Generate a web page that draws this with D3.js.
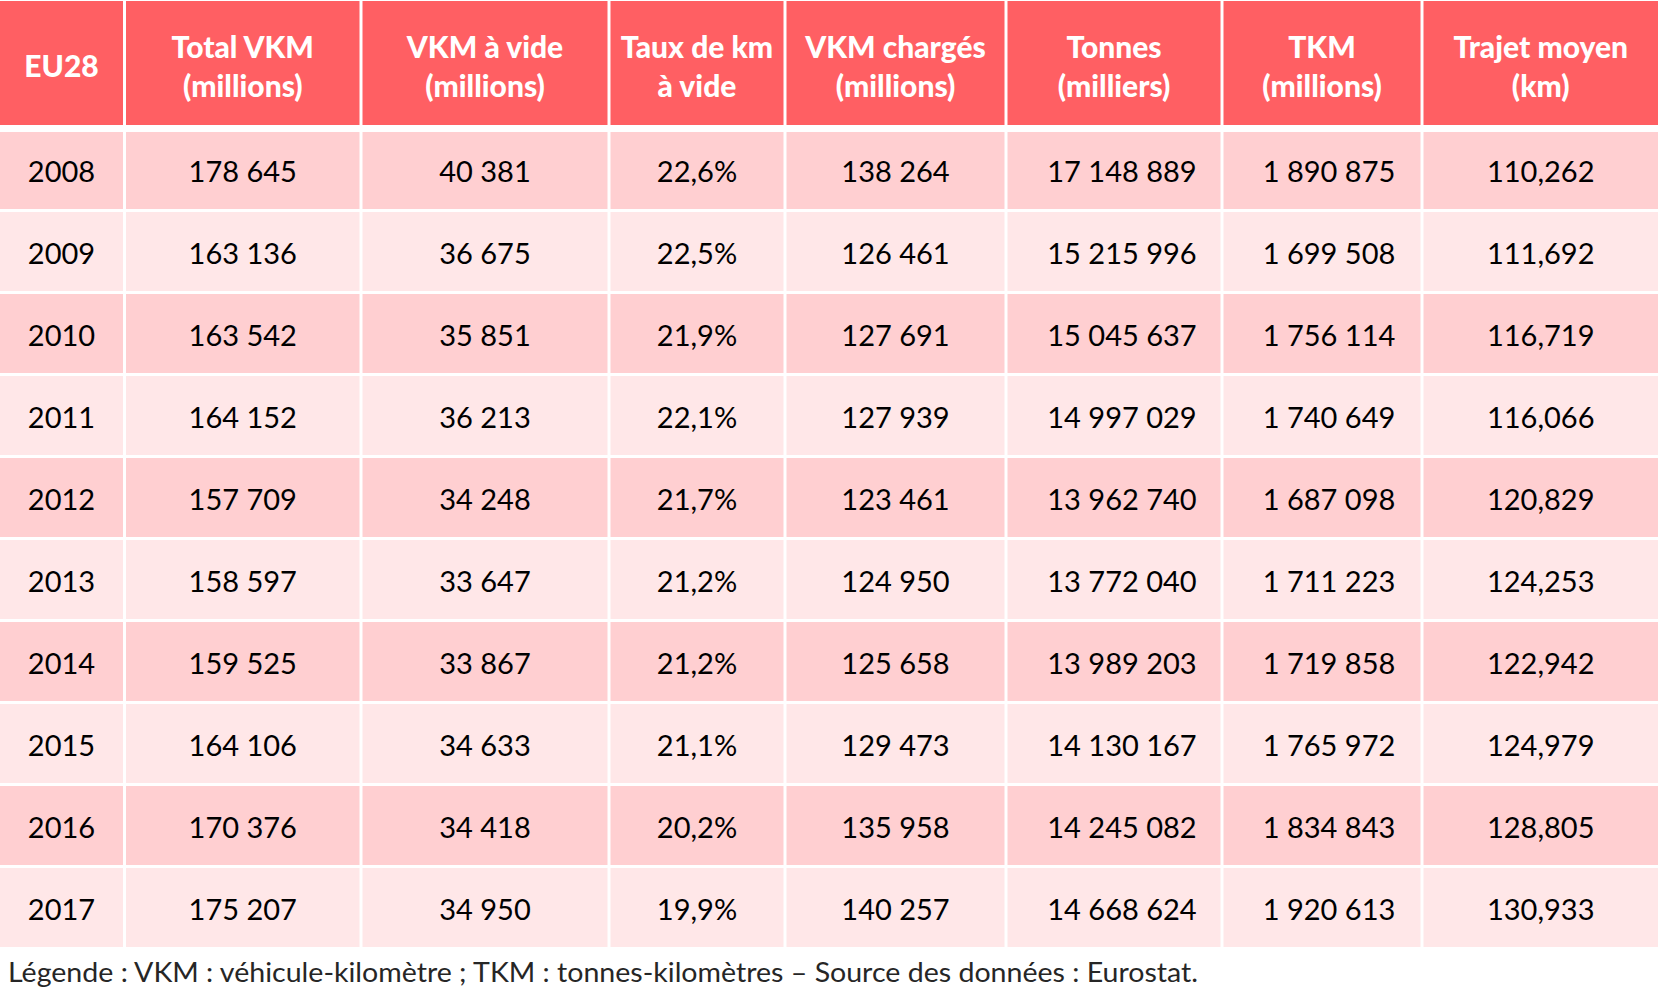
<!DOCTYPE html>
<html><head><meta charset="utf-8">
<script src="https://cdn.jsdelivr.net/npm/d3@7"></script>
<style>html,body{margin:0;padding:0;background:#fff;}svg{display:block;}</style>
</head><body>
<script>
const headers = [["EU28"],["Total VKM","(millions)"],["VKM à vide","(millions)"],["Taux de km","à vide"],["VKM chargés","(millions)"],["Tonnes","(milliers)"],["TKM","(millions)"],["Trajet moyen","(km)"]];
const years = [2008,2009,2010,2011,2012,2013,2014,2015,2016,2017];
const totalVKM = [178645,163136,163542,164152,157709,158597,159525,164106,170376,175207];
const emptyVKM = [40381,36675,35851,36213,34248,33647,33867,34633,34418,34950];
const emptyRate = [22.6,22.5,21.9,22.1,21.7,21.2,21.2,21.1,20.2,19.9];
const loadedVKM = [138264,126461,127691,127939,123461,124950,125658,129473,135958,140257];
const tonnes = [17148889,15215996,15045637,14997029,13962740,13772040,13989203,14130167,14245082,14668624];
const tkm = [1890875,1699508,1756114,1740649,1687098,1711223,1719858,1765972,1834843,1920613];
const avgTrip = [110.262,111.692,116.719,116.066,120.829,124.253,122.942,124.979,128.805,130.933];
const legendText = "Légende : VKM : véhicule-kilomètre ; TKM : tonnes-kilomètres – Source des données : Eurostat.";

const W = 1658, H = 998;
const fr = d3.formatLocale({decimal:",", thousands:" ", grouping:[3], currency:["","€"]});
const fInt = fr.format(",d"), f1 = fr.format(".1f"), f3 = fr.format(".3f");

const svg = d3.select("body").append("svg").attr("width",W).attr("height",H);
const FONT = "Lato, 'Open Sans', sans-serif";

const edges = [0,124.5,361,609,785,1006,1222,1422,1658];
const cellShift = [0,0,0,0,0,8,7,0];
const gap = 3;
const colIdx = d3.range(8);
const xL = d3.scaleOrdinal().domain(colIdx).range(colIdx.map(i => i===0 ? 0 : edges[i]+gap/2));
const xR = d3.scaleOrdinal().domain(colIdx).range(colIdx.map(i => i===7 ? W : edges[i+1]-gap/2));
const xC = i => (xL(i)+xR(i))/2;

const y = d3.scaleBand().domain(years).range([130, 130+82*10-3]).paddingInner(3/82).paddingOuter(0);

// header
const hg = svg.append("g");
colIdx.forEach(i => {
  hg.append("rect").attr("x",xL(i)).attr("y",1).attr("width",xR(i)-xL(i)).attr("height",124).attr("fill","#FF5F63");
  const lines = headers[i];
  const t = hg.append("text").attr("x",xC(i)).attr("text-anchor","middle")
    .attr("font-family",FONT).attr("font-weight",900).attr("font-size",30).attr("fill","#fff");
  if (lines.length===1) {
    t.append("tspan").attr("x",xC(i)).attr("y",65).attr("dominant-baseline","central").text(lines[0]);
  } else {
    lines.forEach((l,k)=> t.append("tspan").attr("x",xC(i)).attr("y",k===0?46:85).attr("dominant-baseline","central").text(l));
  }
});

// rows
const rows = years.map((yr,r)=>[String(yr), fInt(totalVKM[r]), fInt(emptyVKM[r]), f1(emptyRate[r])+"%", fInt(loadedVKM[r]), fInt(tonnes[r]), fInt(tkm[r]), f3(avgTrip[r])]);
const rg = svg.append("g");
years.forEach((yr,r) => {
  const top = Math.max(y(yr),132);
  const bot = y(yr)+y.bandwidth();
  colIdx.forEach(i => {
    rg.append("rect").attr("x",xL(i)).attr("y",top).attr("width",xR(i)-xL(i)).attr("height",bot-top)
      .attr("fill", r%2===0 ? "#FFCFD1" : "#FFE7E8");
    rg.append("text").attr("x",xC(i)+cellShift[i]).attr("y",y(yr)+y.bandwidth()/2+1).attr("text-anchor","middle")
      .attr("dominant-baseline","central").attr("font-family",FONT).attr("font-size",29).attr("fill","#000")
      .text(rows[r][i]);
  });
});

svg.append("text").attr("x",8).attr("y",972).attr("dominant-baseline","central")
  .attr("font-family",FONT).attr("font-size",26).attr("fill","#262626")
  .attr("textLength",1190).attr("lengthAdjust","spacingAndGlyphs").text(legendText);
</script>
</body></html>
